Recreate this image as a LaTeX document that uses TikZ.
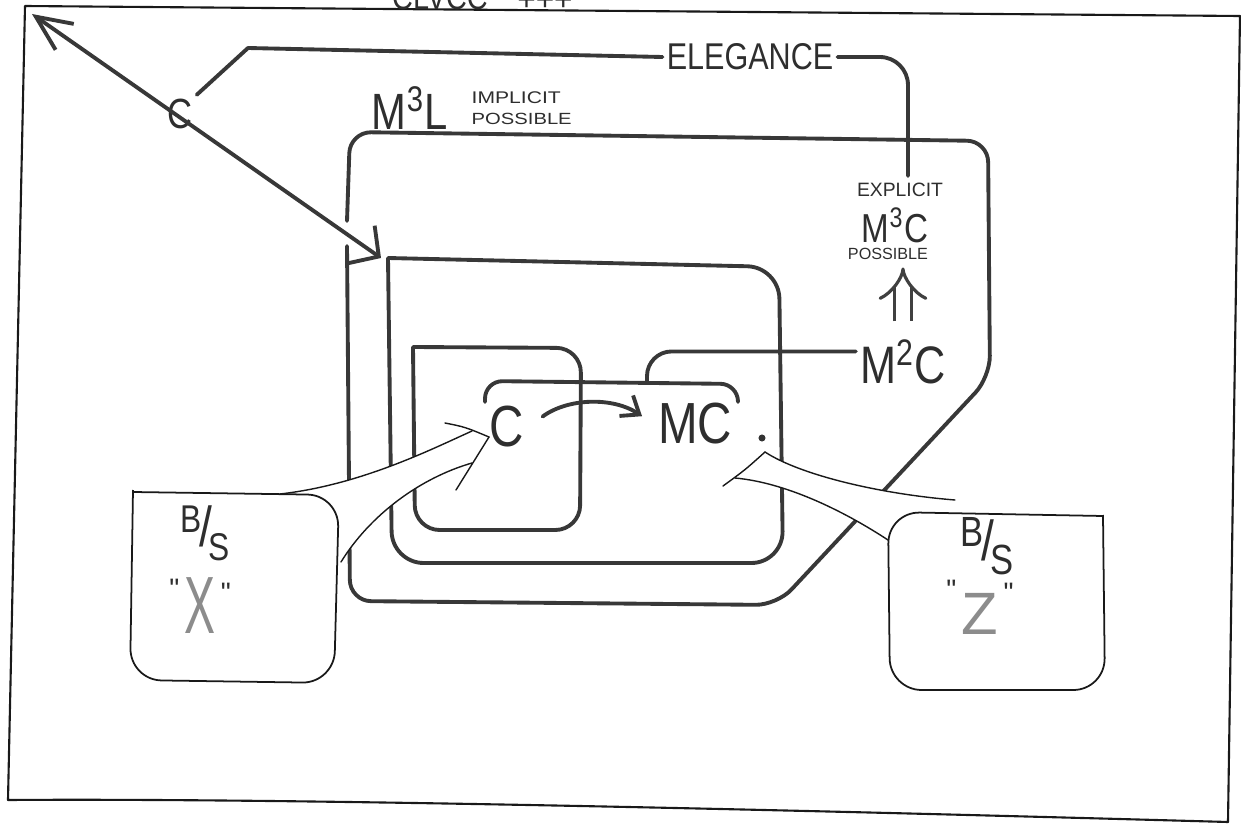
\documentclass[tikz,border=0pt]{standalone}
\usepackage{fontspec}
\usepackage{xcolor}
\usepackage{graphicx}
\usepackage{tikz}
\usetikzlibrary{arrows.meta,positioning}

\newfontfamily\handfont[FakeStretch=0.82]{Liberation Sans}
\newfontfamily\widehand[FakeStretch=1.25]{Liberation Sans}
\newfontfamily\plainhand{Liberation Sans}

% B over S, as scribbled in the two callouts
\newcommand{\bovers}{\raisebox{4pt}{B}\kern-0.5pt{\fontsize{16}{16}\selectfont/}\kern-1pt\raisebox{-4pt}{S}}
\newcommand{\quoted}[1]{\raisebox{10pt}{\fontsize{8}{8}\selectfont"}\kern1.5pt#1\kern1.5pt\raisebox{9pt}{\fontsize{8}{8}\selectfont"}}

\begin{document}
\begin{tikzpicture}[
  x=0.01cm, y=-0.01cm,
  heavy/.style={line width=1.1pt, black!78, line cap=round, line join=round},
  frameline/.style={line width=0.6pt, black!90, line cap=round, line join=round},
  calloutbox/.style={line width=0.5pt, black!90, rounded corners=9pt},
  tailline/.style={line width=0.4pt, black!90, line cap=round},
  lbl/.style={inner sep=1pt, text=black!82},
  barb/.style={-{Straight Barb[length=4.5pt,width=7pt]}}
]
\useasboundingbox (0,0) rectangle (1241,824);

% Sheet border and the cut-off heading
\draw[frameline] (25,6) -- (1240,16) -- (1228,822) .. controls (800,810) and (300,798) .. (8,800) -- cycle;
\node[lbl, anchor=base, font=\handfont\fontsize{10}{10}\selectfont] (topword) at (440,9) {CLVCC};
\node[lbl, font=\plainhand\fontsize{9}{9}\selectfont] (topplus) at (545,1) {+++};

% Boxes
\draw[heavy, rounded corners=6pt] (347,221) -- (350,132) -- (988,141) -- (990,377) -- (777,605) -- (350,601) -- (347,246);
\draw[heavy, rounded corners=9pt] (388,258) -- (779,267) -- (783,563) -- (392,563) -- (388,258);
\draw[heavy, rounded corners=7pt] (413,347) -- (581,348) -- (580,530) -- (415,530) -- (413,347);
\draw[heavy, rounded corners=5pt] (485,402) -- (485,381) -- (738,384) -- (738,402);

% Labels
\node[lbl, font=\handfont\fontsize{12}{12}\selectfont] (csmall) at (180,114) {C};
\node[lbl, font=\handfont\fontsize{10.6}{11}\selectfont] (eleg) at (750,57) {ELEGANCE};
\node[lbl, font=\handfont\fontsize{14.5}{15}\selectfont] (m3l) at (410,108) {M\textsuperscript{3}L};
\node[lbl, inner sep=0pt, anchor=west, font=\widehand\fontsize{4.8}{5}\selectfont] (implicit) at (471,98) {IMPLICIT};
\node[lbl, inner sep=0pt, anchor=west, font=\widehand\fontsize{4.6}{5}\selectfont] (possL) at (471,119) {POSSIBLE};
\node[lbl, font=\plainhand\fontsize{5.5}{6}\selectfont] (expl) at (900,190) {EXPLICIT};
\node[lbl, font=\handfont\fontsize{11.5}{12}\selectfont] (m3c) at (895,225) {M\textsuperscript{3}C};
\node[lbl, font=\plainhand\fontsize{4.6}{5}\selectfont] (possR) at (888,254) {POSSIBLE};
\node[lbl, font=\handfont\fontsize{15}{15}\selectfont] (m2c) at (903,362) {M\textsuperscript{2}C};
\node[lbl, font=\handfont\fontsize{16.5}{17}\selectfont] (cbig) at (507,427) {C};
\node[lbl, font=\handfont\fontsize{16.5}{17}\selectfont] (mc) at (695,424) {MC};

% Connectors
\coordinate (tl) at (32,14);
\coordinate (inTip) at (381,258);
\coordinate (eTurn) at (248,48);
\coordinate (explTop) at (908,176);
\coordinate (mcBracket) at (647,381);
\draw[heavy, {Straight Barb[length=10pt,width=9pt]}-{Straight Barb[length=6pt,width=13pt]}] (tl) -- (inTip);
\draw[heavy] (csmall.north east) -- (eTurn) -- (eleg.west);
\draw[heavy, rounded corners=8pt] (eleg.east) -| (explTop);
\draw[heavy, rounded corners=7pt] ([yshift=3pt]m2c.west) -| (mcBracket);
\draw[draw=black!75, line width=0.9pt, double distance=4pt, -{Implies[length=5pt,width=11pt]}, shorten <=4pt, shorten >=1pt] (m2c.north) -- (m2c.north |- possR.south);
\draw[heavy, barb, bend left=35, shorten <=5pt, shorten >=4pt] (cbig.east) to (mc.west);

% Callout "X"
\fill[white] (280,494) .. controls (360,485) and (430,450) .. (472,431) -- (490,437) -- (472,463) .. controls (420,478) and (370,515) .. (341,562) -- cycle;
\draw[tailline] (280,494) .. controls (360,485) and (430,450) .. (472,431);
\draw[tailline] (445,423) .. controls (465,427) .. (489,437);
\draw[tailline] (341,562) .. controls (370,515) and (420,478) .. (472,463);
\draw[tailline] (456,490) -- (489,437);
\draw[calloutbox] (133,490) -- (130,680) -- (334,683) -- (339,495) -- (133,492);
\node[lbl, font=\handfont\fontsize{11}{11}\selectfont] (bsX) at (205,533) {\bovers};
\node[lbl, font=\plainhand\fontsize{22}{22}\selectfont] (qX) at (200,606) {\quoted{\textcolor{black!45}{\scalebox{0.6}[1.05]{X}}}};

% Callout "Z"
\fill[white] (765,452) .. controls (800,475) and (880,494) .. (955,500) -- (955,516) -- (905,512) -- (888,540) .. controls (850,515) and (790,483) .. (735,478) -- (723,486) -- cycle;
\draw[tailline] (765,452) .. controls (800,475) and (880,494) .. (955,500);
\draw[tailline] (888,540) .. controls (850,515) and (790,483) .. (735,478);
\draw[tailline] (765,452) .. controls (745,470) .. (723,486);
\fill[black!80] (762,438) circle (1pt);
\draw[calloutbox] (1103,515) -- (1105,690) -- (890,690) -- (888,512) -- (1103,516);
\node[lbl, font=\handfont\fontsize{12}{12}\selectfont] (bsZ) at (987,546) {\bovers};
\node[lbl, font=\plainhand\fontsize{17}{17}\selectfont] (qZ) at (980,607) {\quoted{\textcolor{black!45}{Z}}};

\end{tikzpicture}
\end{document}
